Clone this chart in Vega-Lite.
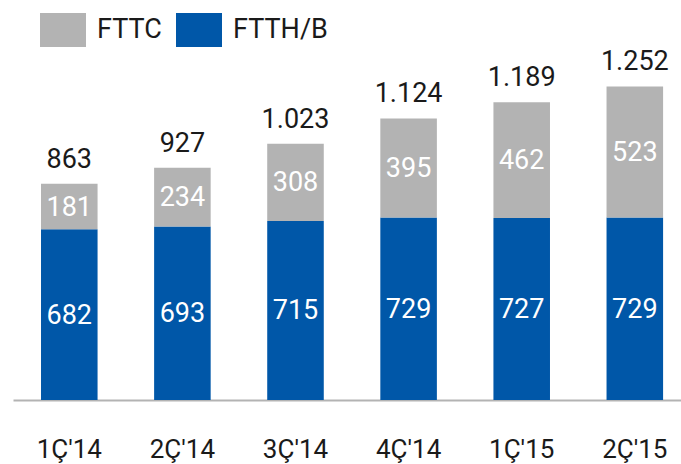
{
  "$schema": "https://vega.github.io/schema/vega-lite/v6.json",
  "width": 668,
  "height": 400,
  "autosize": "none",
  "padding": {"left": 13, "top": 0, "right": 0, "bottom": 64},
  "config": {
    "view": {"stroke": null},
    "locale": {"number": {"decimal": ",", "thousands": ".", "grouping": [3], "currency": ["", " TL"]}}
  },
  "data": {
    "values": [
      {"q": "1Ç'14", "series": "FTTH/B", "value": 682},
      {"q": "1Ç'14", "series": "FTTC", "value": 181},
      {"q": "2Ç'14", "series": "FTTH/B", "value": 693},
      {"q": "2Ç'14", "series": "FTTC", "value": 234},
      {"q": "3Ç'14", "series": "FTTH/B", "value": 715},
      {"q": "3Ç'14", "series": "FTTC", "value": 308},
      {"q": "4Ç'14", "series": "FTTH/B", "value": 729},
      {"q": "4Ç'14", "series": "FTTC", "value": 395},
      {"q": "1Ç'15", "series": "FTTH/B", "value": 727},
      {"q": "1Ç'15", "series": "FTTC", "value": 462},
      {"q": "2Ç'15", "series": "FTTH/B", "value": 729},
      {"q": "2Ç'15", "series": "FTTC", "value": 523}
    ]
  },
  "encoding": {
    "x": {
      "field": "q",
      "type": "nominal",
      "sort": null,
      "scale": {"paddingInner": 0.5, "paddingOuter": 0.203, "align": 0.61},
      "axis": {
        "title": null,
        "domain": true,
        "domainColor": "#b3b3b3",
        "domainWidth": 2,
        "ticks": false,
        "tickSize": 0,
        "grid": false,
        "labelAngle": 0,
        "labelFont": "Roboto",
        "labelFontSize": 26,
        "labelColor": "#1a1a1a",
        "labelBaseline": "alphabetic",
        "labelPadding": 57
      }
    }
  },
  "layer": [
    {
      "mark": {"type": "bar"},
      "encoding": {
        "y": {"field": "value", "type": "quantitative", "stack": "zero", "scale": {"domain": [0, 1597], "nice": false}, "axis": null},
        "color": {
          "field": "series",
          "type": "nominal",
          "scale": {"domain": ["FTTC", "FTTH/B"], "range": ["#b3b3b3", "#0057a8"]},
          "legend": {
            "title": null,
            "orient": "none",
            "legendX": 27,
            "legendY": 7,
            "direction": "horizontal",
            "padding": 0,
            "symbolType": "M-1,-0.739H1V0.739H-1Z",
            "symbolSize": 2116,
            "symbolStrokeWidth": 0,
            "symbolOpacity": 1,
            "labelFont": "Roboto",
            "labelFontSize": 27,
            "labelColor": "#1a1a1a",
            "labelOffset": 11,
            "columnPadding": 14
          }
        },
        "order": {"field": "series", "sort": "descending"}
      }
    },
    {
      "transform": [
        {"stack": "value", "groupby": ["q"], "sort": [{"field": "series", "order": "descending"}], "as": ["v0", "v1"]},
        {"calculate": "(datum.v0 + datum.v1) / 2", "as": "mid"}
      ],
      "mark": {"type": "text", "font": "Roboto", "fontSize": 27, "color": "white", "baseline": "middle", "dy": 1},
      "encoding": {
        "y": {"field": "mid", "type": "quantitative"},
        "text": {"field": "value", "type": "quantitative", "format": ","}
      }
    },
    {
      "mark": {"type": "text", "font": "Roboto", "fontSize": 27, "color": "#1a1a1a", "baseline": "alphabetic", "dy": -16},
      "encoding": {
        "y": {"aggregate": "sum", "field": "value", "type": "quantitative"},
        "text": {"aggregate": "sum", "field": "value", "type": "quantitative", "format": ","}
      }
    }
  ]
}
